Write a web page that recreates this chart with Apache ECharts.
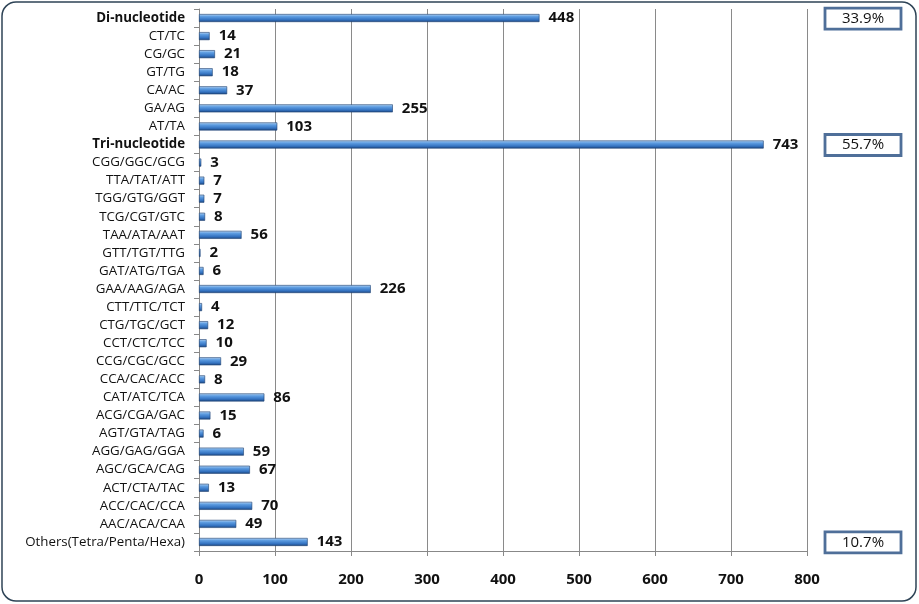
<!DOCTYPE html>
<html>
<head>
<meta charset="utf-8">
<script src="https://cdn.jsdelivr.net/npm/echarts@6/dist/echarts.min.js"></script>
<style>
html,body{margin:0;padding:0;background:#fff;}
#c{width:919px;height:604px;}
</style>
</head>
<body>
<div id="c"></div>
<script>
// Data (top to bottom as displayed)
const categories = [
  'Di-nucleotide','CT/TC','CG/GC','GT/TG','CA/AC','GA/AG','AT/TA',
  'Tri-nucleotide','CGG/GGC/GCG','TTA/TAT/ATT','TGG/GTG/GGT','TCG/CGT/GTC',
  'TAA/ATA/AAT','GTT/TGT/TTG','GAT/ATG/TGA','GAA/AAG/AGA','CTT/TTC/TCT',
  'CTG/TGC/GCT','CCT/CTC/TCC','CCG/CGC/GCC','CCA/CAC/ACC','CAT/ATC/TCA',
  'ACG/CGA/GAC','AGT/GTA/TAG','AGG/GAG/GGA','AGC/GCA/CAG','ACT/CTA/TAC',
  'ACC/CAC/CCA','AAC/ACA/CAA','Others(Tetra/Penta/Hexa)'
];
const values = [
  448,14,21,18,37,255,103,
  743,3,7,7,8,
  56,2,6,226,4,
  12,10,29,8,86,
  15,6,59,67,13,
  70,49,143
];
const xTicks = [0,100,200,300,400,500,600,700,800];
const groupCategories = ['Di-nucleotide','Tri-nucleotide','Others(Tetra/Penta/Hexa)'];
const groupPercents = ['33.9%','55.7%','10.7%'];
const boldCategories = ['Di-nucleotide','Tri-nucleotide'];

// ECharts category axis goes bottom->top, so reverse for display order
const cats = categories.slice().reverse();
const vals = values.slice().reverse();

const chart = echarts.init(document.getElementById('c'));
const barColor = new echarts.graphic.LinearGradient(0,0,0,1,[
  {offset:0,color:'#bcd8f5'},
  {offset:0.3,color:'#5f9ee2'},
  {offset:0.7,color:'#3574c2'},
  {offset:1,color:'#1c4680'}
]);
const font = '"Open Sans", "Noto Sans", Arial, sans-serif';
chart.setOption({
  animation:false,
  backgroundColor:'#fff',
  grid:{left:199,right:112,top:9,bottom:53,containLabel:false},
  xAxis:{
    type:'value',min:xTicks[0],max:xTicks[xTicks.length-1],interval:100,
    axisLine:{show:true,lineStyle:{color:'#888',width:1}},
    axisTick:{show:true,length:5,lineStyle:{color:'#888'}},
    splitLine:{show:true,lineStyle:{color:'#8a8a8a',width:1}},
    axisLabel:{color:'#111',fontSize:15,fontWeight:'bold',fontFamily:font,margin:21}
  },
  yAxis:{
    type:'category',data:cats,
    axisLine:{show:true,lineStyle:{color:'#888'}},
    axisTick:{show:true,length:5,lineStyle:{color:'#888'}},
    axisLabel:{
      color:'#111',fontSize:13.3,fontFamily:font,margin:14,
      formatter:function(v){return boldCategories.indexOf(v)>=0?'{b|'+v+'}':v;},
      rich:{b:{fontWeight:'bold',fontSize:13.3,fontFamily:font,color:'#111'}}
    }
  },
  series:[{
    type:'bar',data:vals,barWidth:8,
    itemStyle:{color:barColor,borderColor:'#1d3f70',borderWidth:0.6},
    label:{show:true,position:'right',distance:9,color:'#111',fontSize:15,fontWeight:'bold',fontFamily:font}
  }]
});

// Percentage boxes aligned with their group rows, plus outer rounded border
const gfx = [{
  type:'rect',shape:{x:2,y:2,width:914,height:599,r:14},
  style:{fill:'none',stroke:'#2e4356',lineWidth:1.5},silent:true
}];
groupCategories.forEach(function(c,i){
  const y = chart.convertToPixel({yAxisIndex:0}, c);
  gfx.push({
    type:'rect',shape:{x:825,y:y-10,width:76,height:21},
    style:{fill:'#fff',stroke:'#4f6f99',lineWidth:2.8}
  });
  gfx.push({
    type:'text',x:863,y:y+0.5,
    style:{text:groupPercents[i],fill:'#111',font:'500 15px '+font,align:'center',verticalAlign:'middle'}
  });
});
chart.setOption({graphic:gfx});
</script>
</body>
</html>
